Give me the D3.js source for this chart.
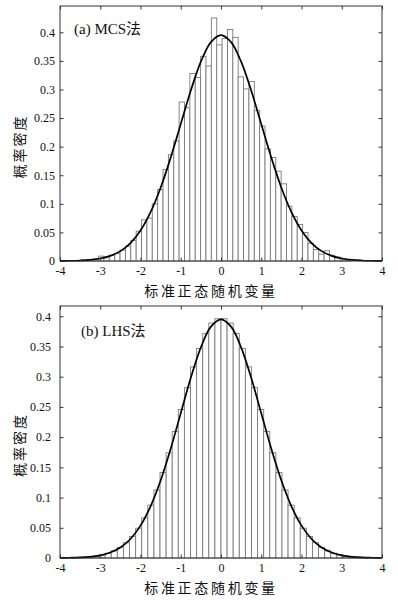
<!DOCTYPE html>
<html>
<head>
<meta charset="utf-8">
<script src="https://cdn.jsdelivr.net/npm/d3@7"></script>
<style>
  body { margin: 0; background: #fff; }
  .tick text { font-family: "Liberation Serif", "Times New Roman", serif; font-size: 12px; fill: #111; }
  .hint { font-family: "Noto Sans CJK SC", sans-serif; font-size: 14px; fill: #111; }
  .tag { font-family: "Liberation Serif", "Noto Sans CJK SC", serif; font-size: 15px; fill: #111; }
</style>
</head>
<body>
<div id="chart"></div>
<script>
// x ticks and y ticks
let xTicks = [-4, -3, -2, -1, 0, 1, 2, 3, 4];
let yTicks = [0, 0.05, 0.1, 0.15, 0.2, 0.25, 0.3, 0.35, 0.4];

// (a) MCS histogram: bins start at -3.575, width 0.1334
let binStartA = -3.575;
let binWidthA = 0.1334;
let densityA = [0.0007, 0.0015, 0.002, 0.004, 0.0085, 0.007, 0.010, 0.013, 0.019, 0.026,
    0.036, 0.052, 0.072, 0.075, 0.100, 0.125, 0.160, 0.186, 0.210, 0.278,
    0.268, 0.328, 0.321, 0.358, 0.341, 0.425, 0.378, 0.389, 0.405, 0.391,
    0.322, 0.301, 0.314, 0.263, 0.236, 0.196, 0.181, 0.157, 0.135, 0.096,
    0.078, 0.064, 0.050, 0.031, 0.020, 0.012, 0.018, 0.010, 0.007, 0.004, 0.002];

// (b) LHS histogram: bins start at -3.7875, width 0.1515
let binStartB = -3.7875;
let binWidthB = 0.1515;
let densityB = [0.0004, 0.0007, 0.0012, 0.0020, 0.0032, 0.0051, 0.0079, 0.0119, 0.0175, 0.0253,
    0.0357, 0.0493, 0.0664, 0.0874, 0.1125, 0.1416, 0.1741, 0.2092, 0.2457, 0.2819,
    0.3162, 0.3466, 0.3713, 0.3888, 0.396,
    0.396, 0.3888, 0.3713, 0.3466, 0.3162, 0.2819, 0.2457, 0.2092, 0.1741, 0.1416,
    0.1125, 0.0874, 0.0664, 0.0493, 0.0357, 0.0253, 0.0175, 0.0119, 0.0079, 0.0051,
    0.0032, 0.0020, 0.0012, 0.0007, 0.0004];

// fitted density curve
let curveX = [-4, -3.75, -3.5, -3.25, -3, -2.75, -2.5, -2.25, -2, -1.75, -1.5, -1.25, -1, -0.75, -0.5, -0.25,
    0, 0.25, 0.5, 0.75, 1, 1.25, 1.5, 1.75, 2, 2.25, 2.5, 2.75, 3, 3.25, 3.5, 3.75, 4];
let curveY = [0.0001, 0.0004, 0.0009, 0.002, 0.0044, 0.009, 0.0173, 0.0314, 0.0535, 0.0855, 0.1282, 0.1808,
    0.2396, 0.2981, 0.3486, 0.3828, 0.395, 0.3828, 0.3486, 0.2981, 0.2396, 0.1808, 0.1282, 0.0855,
    0.0535, 0.0314, 0.0173, 0.009, 0.0044, 0.002, 0.0009, 0.0004, 0.0001];

let w = 398, h = 600;

let svg = d3.select("#chart")
    .append("svg")
    .attr("width", w)
    .attr("height", h);

function drawPanel(p) {
    let g = svg.append("g");

    let xScale = d3.scaleLinear().domain([-4, 4]).range([p.left, p.right]);
    let yScale = d3.scaleLinear().domain([0, p.yMax]).range([p.bottom, p.top]);

    let bins = p.density.map(function (d, i) {
        return { x0: p.binStart + i * p.binWidth, x1: p.binStart + (i + 1) * p.binWidth, y: d };
    });

    g.selectAll("rect.bar")
        .data(bins)
        .enter()
        .append("rect")
        .attr("class", "bar")
        .attr("x", function (d) { return xScale(d.x0); })
        .attr("y", function (d) { return yScale(d.y); })
        .attr("width", function (d) { return xScale(d.x1) - xScale(d.x0); })
        .attr("height", function (d) { return yScale(0) - yScale(d.y); })
        .attr("fill", "#fff")
        .attr("stroke", "#7a7a7a")
        .attr("stroke-width", 0.9);

    let line = d3.line()
        .x(function (d, i) { return xScale(curveX[i]); })
        .y(function (d) { return yScale(d); })
        .curve(d3.curveCatmullRom);

    g.append("path")
        .datum(curveY)
        .attr("d", line)
        .attr("fill", "none")
        .attr("stroke", "#000")
        .attr("stroke-width", 1.7);

    // frame
    g.append("rect")
        .attr("x", p.left)
        .attr("y", p.top)
        .attr("width", p.right - p.left)
        .attr("height", p.bottom - p.top)
        .attr("fill", "none")
        .attr("stroke", "#333")
        .attr("stroke-width", 1);

    let xAxis = d3.axisBottom(xScale).tickValues(xTicks).tickSize(-3.5).tickPadding(5)
        .tickFormat(function (d) { return String(d); });
    let yAxis = d3.axisLeft(yScale).tickValues(yTicks).tickSize(-3.5).tickPadding(p.yPad)
        .tickFormat(function (d) { return String(+d.toFixed(2)); });

    g.append("g")
        .attr("transform", "translate(0," + p.bottom + ")")
        .call(xAxis)
        .call(function (s) { s.select(".domain").remove(); });
    g.append("g")
        .attr("transform", "translate(" + p.left + ",0)")
        .call(yAxis)
        .call(function (s) { s.select(".domain").remove(); });
    g.append("g")
        .attr("transform", "translate(0," + p.top + ")")
        .call(d3.axisTop(xScale).tickValues(xTicks).tickSize(-3.5).tickFormat(""))
        .call(function (s) { s.select(".domain").remove(); });
    g.append("g")
        .attr("transform", "translate(" + p.right + ",0)")
        .call(d3.axisRight(yScale).tickValues(yTicks).tickSize(-3.5).tickFormat(""))
        .call(function (s) { s.select(".domain").remove(); });

    g.selectAll(".tick line").attr("stroke", "#333");

    g.append("text")
        .attr("class", "hint")
        .attr("x", 211)
        .attr("y", p.bottom + 35)
        .style("text-anchor", "middle")
        .style("letter-spacing", "2.7px")
        .text("标准正态随机变量");

    g.append("text")
        .attr("class", "hint")
        .attr("transform", "rotate(-90)")
        .attr("x", -((p.top + p.bottom) / 2 + 13))
        .attr("y", 25)
        .style("text-anchor", "middle")
        .style("letter-spacing", "2px")
        .text("概率密度");

    g.append("text")
        .attr("class", "tag")
        .attr("x", p.tagX)
        .attr("y", p.tagY)
        .text(p.tag);
}

drawPanel({ left: 60, right: 382, top: 6, bottom: 261, yMax: 0.446, yPad: 5,
    binStart: binStartA, binWidth: binWidthA, density: densityA,
    tag: "(a) MCS法", tagX: 74, tagY: 34 });

drawPanel({ left: 60, right: 382, top: 306, bottom: 558, yMax: 0.417, yPad: 9,
    binStart: binStartB, binWidth: binWidthB, density: densityB,
    tag: "(b) LHS法", tagX: 81, tagY: 336 });
</script>
</body>
</html>
